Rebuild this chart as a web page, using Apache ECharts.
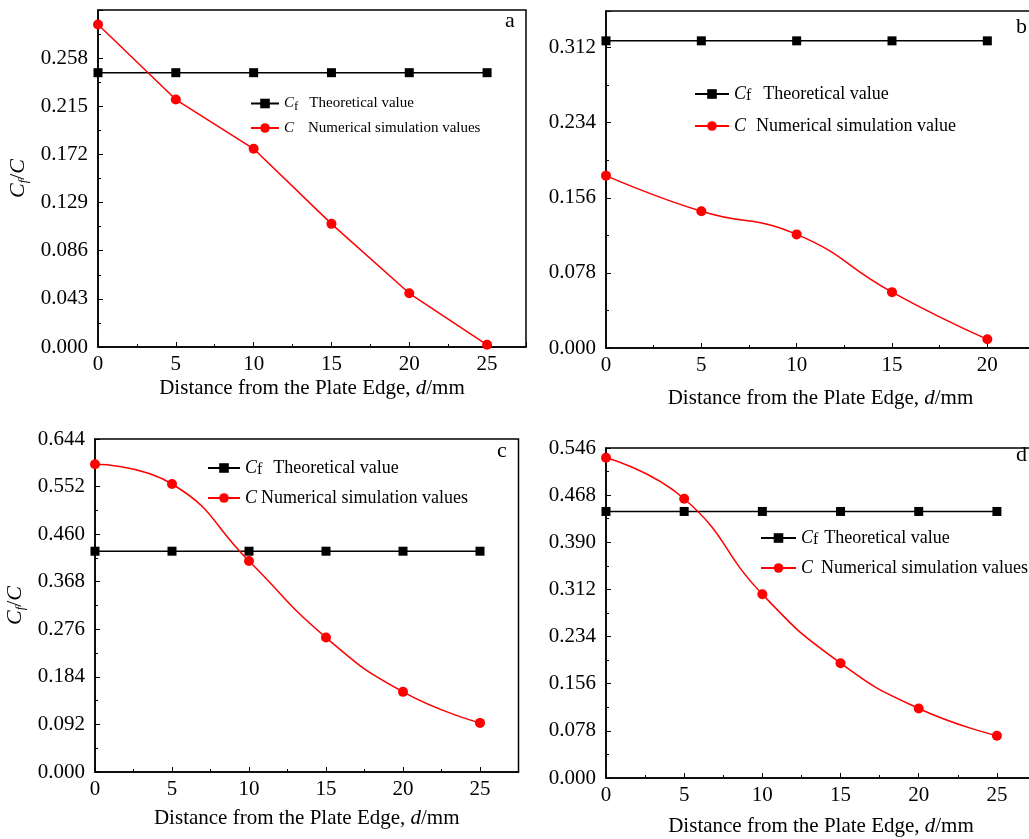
<!DOCTYPE html>
<html>
<head>
<meta charset="utf-8">
<script src="https://cdn.jsdelivr.net/npm/echarts@6/dist/echarts.min.js"></script>
<style>
  html, body { margin: 0; padding: 0; background: #fff; }
  #main { width: 1029px; height: 839px; }
</style>
</head>
<body>
<div id="main"></div>
<script>
var myChart = echarts.init(document.getElementById('main'));

// panel data
var xA = [0, 5, 10, 15, 20, 25];
var theoA = [0.245, 0.245, 0.245, 0.245, 0.245, 0.245];
var simA = [0.288, 0.221, 0.177, 0.110, 0.048, 0.002];

var xB = [0, 5, 10, 15, 20];
var theoB = [0.319, 0.319, 0.319, 0.319, 0.319];
var simB = [0.179, 0.142, 0.118, 0.058, 0.009];

var xC = [0, 5, 10, 15, 20, 25];
var theoC = [0.427, 0.427, 0.427, 0.427, 0.427, 0.427];
var simC = [0.595, 0.557, 0.408, 0.260, 0.155, 0.095];

var xD = [0, 5, 10, 15, 20, 25];
var theoD = [0.441, 0.441, 0.441, 0.441, 0.441, 0.441];
var simD = [0.530, 0.462, 0.304, 0.190, 0.115, 0.070];

// axis ranges / tick steps
var yStepA = 0.043, yMaxA = 0.301;
var yStepB = 0.078, yMaxB = 0.35;
var yStepC = 0.092, yMaxC = 0.644;
var yStepD = 0.078, yMaxD = 0.546;

var FONT = 'Liberation Serif';

function pairs(xs, ys) {
  return xs.map(function (x, i) { return [x, ys[i]]; });
}

function xAxisOf(idx, max, gap) {
  return {
    gridIndex: idx, type: 'value', min: 0, max: max, interval: 5,
    name: '{n|Distance from the Plate Edge, }{i|d}{n|/mm}',
    nameLocation: 'middle', nameGap: gap,
    nameTextStyle: {
      rich: {
        n: { fontFamily: FONT, fontSize: 21, color: '#000' },
        i: { fontFamily: FONT, fontSize: 21, fontStyle: 'italic', color: '#000' }
      }
    },
    axisLine: { onZero: false, lineStyle: { color: '#000', width: 1.5 } },
    axisTick: { inside: true, length: 5, lineStyle: { color: '#000', width: 1 } },
    minorTick: { show: true, splitNumber: 2, length: 3, lineStyle: { color: '#000', width: 1 } },
    axisLabel: { fontFamily: FONT, fontSize: 21, color: '#000', margin: 7, showMaxLabel: false },
    splitLine: { show: false }
  };
}

function yAxisOf(idx, step, max, showMax, withName) {
  var ax = {
    gridIndex: idx, type: 'value', min: 0, max: max, interval: step,
    axisLine: { onZero: false, lineStyle: { color: '#000', width: 1.5 } },
    axisTick: { inside: true, length: 5, lineStyle: { color: '#000', width: 1 } },
    minorTick: { show: true, splitNumber: 2, length: 3, lineStyle: { color: '#000', width: 1 } },
    axisLabel: {
      fontFamily: FONT, fontSize: 21, color: '#000', margin: 10, showMaxLabel: showMax,
      formatter: function (v) { return v.toFixed(3); }
    },
    splitLine: { show: false }
  };
  if (withName) {
    ax.name = '{i|C}{s|f}{n|/}{i|C}';
    ax.nameLocation = 'middle';
    ax.nameGap = 68;
    ax.nameRotate = 90;
    ax.nameTextStyle = {
      rich: {
        i: { fontFamily: FONT, fontSize: 22, fontStyle: 'italic', color: '#000', lineHeight: 24 },
        n: { fontFamily: FONT, fontSize: 22, color: '#000', lineHeight: 24 },
        s: { fontFamily: FONT, fontSize: 13, fontStyle: 'italic', color: '#000', lineHeight: 14, verticalAlign: 'bottom' }
      }
    };
  }
  return ax;
}

function legendOf(left, top, iw, fs, gap, names, labels, pads) {
  return {
    orient: 'vertical', left: left, top: top, padding: 0,
    itemWidth: iw, itemHeight: 12, itemGap: gap,
    data: names,
    formatter: function (name) {
      var k = names.indexOf(name);
      var head = k === 0 ? '{i|C}{s|f}' : '{i|C}';
      return head + '{t' + k + '|' + labels[k] + '}';
    },
    textStyle: {
      fontFamily: FONT, fontSize: fs, color: '#000',
      rich: {
        i: { fontFamily: FONT, fontSize: fs, fontStyle: 'italic', color: '#000', lineHeight: 20 },
        s: { fontFamily: FONT, fontSize: fs - 2, color: '#000', lineHeight: 12, verticalAlign: 'bottom' },
        t0: { fontFamily: FONT, fontSize: fs, color: '#000', lineHeight: 20, padding: [0, 0, 0, pads[0]] },
        t1: { fontFamily: FONT, fontSize: fs, color: '#000', lineHeight: 20, padding: [0, 0, 0, pads[1]] }
      }
    }
  };
}

function theoSeries(idx, data, name) {
  return {
    name: name, type: 'line', xAxisIndex: idx, yAxisIndex: idx, data: data,
    symbol: 'rect', symbolSize: 9, color: '#000',
    lineStyle: { color: '#000', width: 1.5 }, itemStyle: { color: '#000' }
  };
}

function simSeries(idx, data, name, smooth) {
  return {
    name: name, type: 'line', xAxisIndex: idx, yAxisIndex: idx, data: data,
    symbol: 'circle', symbolSize: 10, smooth: smooth, color: '#ff0000',
    lineStyle: { color: '#ff0000', width: 1.5 }, itemStyle: { color: '#ff0000' }
  };
}

var gridBase = { show: true, borderColor: '#000', borderWidth: 1.5, containLabel: false, outerBoundsMode: 'none' };

var option = {
  animation: false,
  backgroundColor: '#fff',
  grid: [
    Object.assign({ left: 98, top: 10, width: 428, height: 337 }, gridBase),
    Object.assign({ left: 606, top: 11, width: 429, height: 337 }, gridBase),
    Object.assign({ left: 95, top: 439, width: 423.5, height: 333 }, gridBase),
    Object.assign({ left: 606, top: 448, width: 430, height: 330 }, gridBase)
  ],
  xAxis: [
    xAxisOf(0, 27.5, 31),
    xAxisOf(1, 22.5, 40),
    xAxisOf(2, 27.5, 36),
    xAxisOf(3, 27.5, 38)
  ],
  yAxis: [
    yAxisOf(0, yStepA, yMaxA, false, true),
    yAxisOf(1, yStepB, yMaxB, false, false),
    yAxisOf(2, yStepC, yMaxC, true, true),
    yAxisOf(3, yStepD, yMaxD, true, false)
  ],
  legend: [
    legendOf(250, 96, 28, 15, 7, ['a1', 'a2'], ['Theoretical value', 'Numerical simulation values'], [11, 14]),
    legendOf(694, 85, 34, 18, 13, ['b1', 'b2'], ['Theoretical value', 'Numerical simulation value'], [12, 10]),
    legendOf(207, 459, 32, 18, 11, ['c1', 'c2'], ['Theoretical value', 'Numerical simulation values'], [11, 4]),
    legendOf(760, 529, 35, 18, 11, ['d1', 'd2'], ['Theoretical value', 'Numerical simulation values'], [6, 8])
  ],
  graphic: [
    { type: 'text', left: 505, top: 10, style: { text: 'a', fontFamily: FONT, fontSize: 22, fill: '#000' } },
    { type: 'text', left: 1016, top: 16, style: { text: 'b', fontFamily: FONT, fontSize: 22, fill: '#000' } },
    { type: 'text', left: 497, top: 440, style: { text: 'c', fontFamily: FONT, fontSize: 22, fill: '#000' } },
    { type: 'text', left: 1016, top: 444, style: { text: 'd', fontFamily: FONT, fontSize: 22, fill: '#000' } }
  ],
  series: [
    theoSeries(0, pairs(xA, theoA), 'a1'),
    simSeries(0, pairs(xA, simA), 'a2', false),
    theoSeries(1, pairs(xB, theoB), 'b1'),
    simSeries(1, pairs(xB, simB), 'b2', true),
    theoSeries(2, pairs(xC, theoC), 'c1'),
    simSeries(2, pairs(xC, simC), 'c2', true),
    theoSeries(3, pairs(xD, theoD), 'd1'),
    simSeries(3, pairs(xD, simD), 'd2', true)
  ]
};

myChart.setOption(option);
</script>
</body>
</html>
